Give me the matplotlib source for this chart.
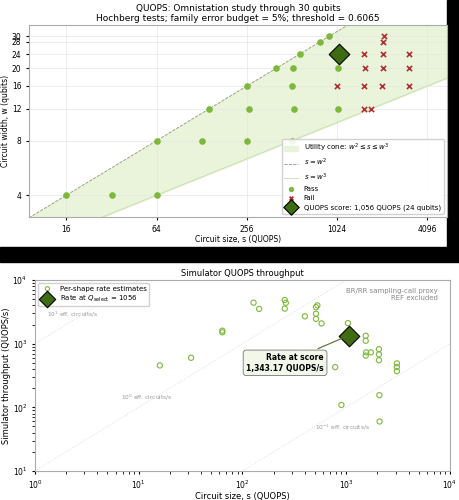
import numpy as np
import matplotlib
matplotlib.use("Agg")
import matplotlib.pyplot as plt
from matplotlib.patches import Rectangle

# ---- top chart data ----
pass_s = [16, 32, 64, 64, 128, 256, 512, 144, 264, 525, 1035, 256, 512, 400, 523, 1040, 579, 784, 900]
pass_w = [4, 4, 4, 8, 8, 8, 8, 12, 12, 12, 12, 16, 16, 20, 20, 20, 24, 28, 30]
fail_s = [1544, 1730, 1024, 1544, 2048, 3083, 1560, 2080, 3083, 1544, 2070, 3083, 2070, 2090]
fail_w = [12, 12, 16, 16, 16, 16, 20, 20, 20, 24, 24, 24, 28, 30]
score_s, score_w = 1056, 24
yticks_top = [4, 8, 12, 16, 20, 24, 28, 30]
xticks_top = [16, 64, 256, 1024, 4096]

# ---- bottom chart data ----
rate_s = [16, 32, 64, 64, 128, 145, 256, 262, 256, 400, 512, 528, 512, 512, 579, 1040,
          784, 900, 1544, 1544, 1560, 1544, 1730, 2070, 2070, 2070, 2090, 2100, 3083, 3083, 3083]
rate_y = [455, 600, 1600, 1510, 4400, 3520, 4850, 4380, 3550, 2690, 3750, 4000, 2950, 2450, 2080, 2100,
          428, 109, 1330, 1110, 730, 650, 730, 820, 680, 550, 155, 60, 490, 430, 370]
score_rate = 1343.17
eff_levels = [1000, 10, 0.1]
eff_labels = ["10$^1$ eff. circuits/s", "10$^0$ eff. circuits/s", "10$^{-1}$ eff. circuits/s"]

fig = plt.figure(figsize=(4.6, 5.0), dpi=100)
fig.patch.set_facecolor("white")
fig.add_artist(Rectangle((447/460, 1-250/500), 13/460, 250/500, transform=fig.transFigure, color="black", zorder=0))
fig.add_artist(Rectangle((0, 1-262/500), 1, 15/500, transform=fig.transFigure, color="black", zorder=0))

light = "#7cb83a"
dark = "#3f6b12"
fs = 5.5

ax = fig.add_axes([0.063, 0.566, 0.909, 0.384])
ax.set_xscale("log", base=2)
ax.set_yscale("log")
xx = np.logspace(np.log2(8), np.log2(6000), 200, base=2)
ax.fill_between(xx, xx**(1/3), xx**0.5, color="#e8f3d8", alpha=0.9, label=r"Utility cone: $w^2 \leq s \leq w^3$", zorder=1)
ax.plot(xx, xx**0.5, ls="--", color="#8a9a70", lw=0.6, label=r"$s = w^2$", zorder=2)
ax.plot(xx, xx**(1/3), ls="-", color="#c8dcaa", lw=0.6, label=r"$s = w^3$", zorder=2)
ax.scatter(pass_s, pass_w, s=14, color=light, label="Pass", zorder=3)
ax.scatter(fail_s, fail_w, s=14, marker="x", color="#b03030", lw=1.2, label="Fail", zorder=3)
ax.scatter([score_s], [score_w], s=110, marker="D", color=dark, edgecolor="black", lw=0.8,
           label="QUOPS score: 1,056 QUOPS (24 qubits)", zorder=4)
ax.set_xlim(9, 5540)
ax.set_ylim(3.03, 34.7)
ax.set_xticks(xticks_top)
ax.set_xticklabels([str(t) for t in xticks_top])
ax.set_yticks(yticks_top)
ax.set_yticklabels([str(t) for t in yticks_top])
ax.minorticks_off()
ax.tick_params(labelsize=fs, length=2)
ax.grid(True, color="#e6e6e6", lw=0.5)
ax.set_xlabel("Circuit size, s (QUOPS)", fontsize=fs, labelpad=1)
ax.set_ylabel("Circuit width, w (qubits)", fontsize=fs, labelpad=1)
ax.set_title("QUOPS: Omnistation study through 30 qubits\nHochberg tests; family error budget = 5%; threshold = 0.6065",
             fontsize=6.5, pad=3, linespacing=1.1)
for sp in ax.spines.values():
    sp.set_color("#aaaaaa")
ax.legend(loc="lower right", fontsize=5, framealpha=0.9, borderpad=0.4, labelspacing=0.45, markerscale=0.75)

# ---- bottom ----
ax2 = fig.add_axes([0.076, 0.058, 0.902, 0.382])
ax2.set_xscale("log")
ax2.set_yscale("log")
ax2.set_xlim(1, 1e4)
ax2.set_ylim(10, 1e4)
sx = np.logspace(0, 4, 50)
for lvl in eff_levels:
    ax2.plot(sx, lvl * sx, ls=":", color="#dddddd", lw=0.7, zorder=1)
ax2.text(1.3, 2700, eff_labels[0], fontsize=4.2, color="#999999")
ax2.text(6.8, 135, eff_labels[1], fontsize=4.2, color="#999999")
ax2.text(500, 45, eff_labels[2], fontsize=4.2, color="#999999")
ax2.scatter(rate_s, rate_y, s=14, facecolor="none", edgecolor=light, lw=0.8, label="Per-shape rate estimates", zorder=3)
ax2.scatter([score_s], [score_rate], s=110, marker="D", color=dark, edgecolor="black", lw=0.8,
            label=r"Rate at $Q_{\mathrm{select}}$ = 1056", zorder=4)
ax2.annotate("Rate at score\n1,343.17 QUOPS/s", xy=(score_s, score_rate), xytext=(610, 500),
             fontsize=5.5, fontweight="bold", ha="right", va="center",
             bbox=dict(boxstyle="round,pad=0.4", fc="#f2f7ea", ec="#777777", lw=0.6),
             arrowprops=dict(arrowstyle="-", color="#556b2f", lw=0.8), zorder=5)
ax2.text(0.97, 0.96, "BR/RR sampling-call proxy\nREF excluded", transform=ax2.transAxes,
         ha="right", va="top", fontsize=5, color="#888888")
ax2.tick_params(labelsize=fs, length=2)
ax2.set_xlabel("Circuit size, s (QUOPS)", fontsize=fs+0.5, labelpad=1)
ax2.set_ylabel("Simulator throughput (QUOPS/s)", fontsize=fs+0.5, labelpad=1)
ax2.set_title("Simulator QUOPS throughput", fontsize=fs+0.5, pad=3)
for sp in ax2.spines.values():
    sp.set_color("#aaaaaa")
ax2.legend(loc="upper left", fontsize=5, framealpha=0.9, borderpad=0.3, labelspacing=0.3, markerscale=0.8)

fig.savefig("out.png", dpi=100, facecolor="white")
